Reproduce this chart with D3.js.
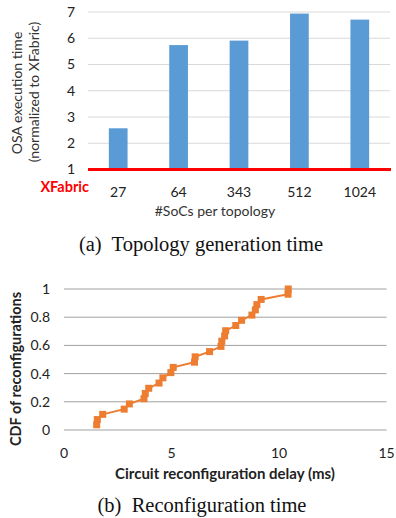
<!DOCTYPE html>
<html>
<head>
<meta charset="utf-8">
<script src="https://cdn.jsdelivr.net/npm/d3@7"></script>
<style>
  body { margin: 0; background: #fff; }
  svg { display: block; }
</style>
</head>
<body>
<svg width="396" height="518"></svg>
<script>
// ~~~~~~ DATA ~~~~~~

// (a) topology generation time
var topoSizes = ["27", "64", "343", "512", "1024"];
var osaTimes = [2.57, 5.74, 5.91, 6.94, 6.71];
var osaTicks = [1, 2, 3, 4, 5, 6, 7];

// (b) reconfiguration CDF
var delayMs = [1.52, 1.55, 1.80, 2.80, 3.04, 3.72, 3.78, 3.94, 4.42, 4.60, 4.97, 5.08, 6.07, 6.10,
               6.77, 7.30, 7.34, 7.47, 7.52, 7.99, 8.26, 8.74, 8.90, 8.97, 9.17, 10.42, 10.43];
var cdfVals = [0.037, 0.074, 0.111, 0.148, 0.185, 0.222, 0.259, 0.296, 0.333, 0.370, 0.407, 0.444, 0.481, 0.519,
               0.556, 0.593, 0.630, 0.667, 0.704, 0.741, 0.778, 0.815, 0.852, 0.889, 0.926, 0.963, 1.0];
var delayTicks = [0, 5, 10, 15];
var cdfTicks = [0, 0.2, 0.4, 0.6, 0.8, 1];

var svg = d3.select("svg");
var sans = "Lato, 'Open Sans', sans-serif";
var serif = "'Liberation Serif', 'Times New Roman', serif";

// ~~~~~~ TOP: bar chart ~~~~~~
var top_g = svg.append("g");

var x_bar = d3.scaleBand().domain(topoSizes).range([88, 390])
              .paddingInner(0.69).paddingOuter(0.345);
var y_bar = d3.scaleLinear().domain([1, 7]).range([169.5, 12]);

// gridlines
top_g.selectAll(".grid")
     .data(osaTicks.slice(1))
     .enter()
     .append("line")
     .attr("x1", 88).attr("x2", 390)
     .attr("y1", function(d) { return y_bar(d); })
     .attr("y2", function(d) { return y_bar(d); })
     .attr("stroke", "#d9d9d9")
     .attr("stroke-width", 1);

// y tick labels
top_g.selectAll(".ytick")
     .data(osaTicks)
     .enter()
     .append("text")
     .attr("x", 75)
     .attr("y", function(d) { return y_bar(d); })
     .attr("dy", "0.35em")
     .attr("text-anchor", "end")
     .style("font", "14px " + sans)
     .attr("fill", "#222")
     .text(function(d) { return d; });

// bars
top_g.selectAll(".bar")
     .data(osaTimes)
     .enter()
     .append("rect")
     .attr("x", function(d, i) { return x_bar(topoSizes[i]); })
     .attr("y", function(d) { return y_bar(d); })
     .attr("width", x_bar.bandwidth())
     .attr("height", function(d) { return y_bar(1) - y_bar(d); })
     .attr("fill", "#5b9bd5");

// XFabric baseline
top_g.append("line")
     .attr("x1", 88).attr("x2", 391)
     .attr("y1", y_bar(1)).attr("y2", y_bar(1))
     .attr("stroke", "#ff0000")
     .attr("stroke-width", 3);

top_g.append("text")
     .attr("x", 89).attr("y", 191.5)
     .attr("text-anchor", "end")
     .style("font", "bold 14.5px " + sans)
     .attr("fill", "#ff0000")
     .text("XFabric");

// x tick labels
top_g.selectAll(".xtick")
     .data(topoSizes)
     .enter()
     .append("text")
     .attr("x", function(d) { return x_bar(d) + x_bar.bandwidth() / 2; })
     .attr("y", 197)
     .attr("text-anchor", "middle")
     .style("font", "14px " + sans)
     .attr("fill", "#222")
     .text(function(d) { return d; });

top_g.append("text")
     .attr("x", 215).attr("y", 216)
     .attr("text-anchor", "middle")
     .style("font", "14px " + sans)
     .attr("fill", "#333")
     .text("#SoCs per topology");

top_g.append("text")
     .attr("transform", "translate(22,93) rotate(-90)")
     .attr("text-anchor", "middle")
     .style("font", "14px " + sans)
     .attr("fill", "#333")
     .text("OSA execution time");

top_g.append("text")
     .attr("transform", "translate(39,92) rotate(-90)")
     .attr("text-anchor", "middle")
     .style("font", "14px " + sans)
     .attr("fill", "#333")
     .text("(normalized to XFabric)");

svg.append("text")
   .attr("x", 201).attr("y", 251)
   .attr("text-anchor", "middle")
   .style("font", "20.5px " + serif)
   .attr("fill", "#111")
   .attr("xml:space", "preserve")
   .text("(a)  Topology generation time");

// ~~~~~~ BOTTOM: CDF ~~~~~~
var bot_g = svg.append("g");

var x_cdf = d3.scaleLinear().domain([0, 15]).range([64, 386.5]);
var y_cdf = d3.scaleLinear().domain([0, 1]).range([430, 289]);

bot_g.selectAll(".grid")
     .data(cdfTicks)
     .enter()
     .append("line")
     .attr("x1", x_cdf(0)).attr("x2", x_cdf(15))
     .attr("y1", function(d) { return y_cdf(d); })
     .attr("y2", function(d) { return y_cdf(d); })
     .attr("stroke", "#a0a0a0")
     .attr("stroke-width", 1);

bot_g.selectAll(".ytick")
     .data(cdfTicks)
     .enter()
     .append("text")
     .attr("x", 50)
     .attr("y", function(d) { return y_cdf(d); })
     .attr("dy", "0.35em")
     .attr("text-anchor", "end")
     .style("font", "14px " + sans)
     .attr("fill", "#222")
     .text(function(d) { return d; });

bot_g.selectAll(".xtick")
     .data(delayTicks)
     .enter()
     .append("text")
     .attr("x", function(d) { return x_cdf(d); })
     .attr("y", 458)
     .attr("text-anchor", "middle")
     .style("font", "14px " + sans)
     .attr("fill", "#222")
     .text(function(d) { return d; });

var pts = delayMs.map(function(d, i) { return [d, cdfVals[i]]; });

var drawLine = d3.line()
                 .x(function(d) { return x_cdf(d[0]); })
                 .y(function(d) { return y_cdf(d[1]); });

bot_g.append("path")
     .attr("d", drawLine(pts))
     .attr("fill", "none")
     .attr("stroke", "#ed7d31")
     .attr("stroke-width", 2);

bot_g.selectAll(".marker")
     .data(pts)
     .enter()
     .append("rect")
     .attr("x", function(d) { return x_cdf(d[0]) - 3.5; })
     .attr("y", function(d) { return y_cdf(d[1]) - 3.5; })
     .attr("width", 7)
     .attr("height", 7)
     .attr("fill", "#ed7d31");

bot_g.append("text")
     .attr("x", 225).attr("y", 479)
     .attr("text-anchor", "middle")
     .style("font", "bold 15px " + sans)
     .attr("fill", "#222")
     .text("Circuit reconfiguration delay (ms)");

bot_g.append("text")
     .attr("transform", "translate(21,369) rotate(-90)")
     .attr("text-anchor", "middle")
     .style("font", "bold 14.5px " + sans)
     .attr("fill", "#222")
     .text("CDF of reconfigurations");

svg.append("text")
   .attr("x", 202).attr("y", 512)
   .attr("text-anchor", "middle")
   .style("font", "20.5px " + serif)
   .attr("fill", "#111")
   .attr("xml:space", "preserve")
   .text("(b)  Reconfiguration time");
</script>
</body>
</html>
